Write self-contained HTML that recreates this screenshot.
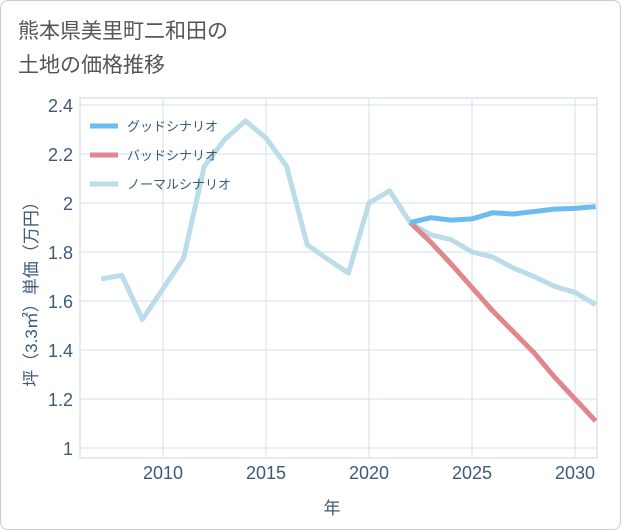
<!DOCTYPE html>
<html><head><meta charset="utf-8"><style>
body{margin:0;background:#fff;font-family:"Liberation Sans","Noto Sans CJK JP",sans-serif;}
#wrap{position:relative;width:619px;height:528px;border:1px solid #ccc;border-radius:8px;overflow:hidden;}
#title{position:absolute;left:17px;top:14px;font-size:21px;line-height:34px;color:#555;}
</style></head><body>
<div id="wrap">
<div id="title">熊本県美里町二和田の<br>土地の価格推移</div>
<svg id="chart" width="621" height="530" style="position:absolute;left:-1px;top:-1px"></svg>
</div>
<script>
const years=[2007,2008,2009,2010,2011,2012,2013,2014,2015,2016,2017,2018,2019,2020,2021,2022,2023,2024,2025,2026,2027,2028,2029,2030,2031];
const normal=[1.69,1.705,1.525,1.65,1.775,2.15,2.26,2.335,2.265,2.15,1.83,1.77,1.714,2.0,2.05,1.92,1.87,1.85,1.80,1.78,1.735,1.70,1.66,1.635,1.585];
const fYears=[2022,2023,2024,2025,2026,2027,2028,2029,2030,2031];
const good=[1.92,1.94,1.93,1.935,1.96,1.955,1.965,1.975,1.978,1.985];
const bad=[1.92,1.84,1.75,1.655,1.56,1.475,1.39,1.29,1.20,1.11];
const yTicks=[1,1.2,1.4,1.6,1.8,2,2.2,2.4];
const yLabels=["1","1.2","1.4","1.6","1.8","2","2.2","2.4"];
const xTicks=[2010,2015,2020,2025,2030];
const legendNames=["グッドシナリオ","バッドシナリオ","ノーマルシナリオ"];
const legendColors=["#6bbcf0","#e0868c","#bcdcea"];
const NS="http://www.w3.org/2000/svg";
const svg=document.getElementById('chart');
const TXT='#3d5a78';
const L=80,R=597,T=98,B=458;
const xs=y=>163+(y-2010)*20.6;
const ys=v=>448-(v-1)*245;
function mk(t,a,p){const e=document.createElementNS(NS,t);for(const k in a)e.setAttribute(k,a[k]);(p||svg).appendChild(e);return e;}
mk('rect',{x:L,y:T,width:R-L,height:B-T,fill:'none',stroke:'#c8d4de'});
yTicks.forEach((v,i)=>{
 const g=mk('line',{x1:L,x2:R,y1:ys(v),y2:ys(v),stroke:'#d2e2ee'});
 
 
 const t=mk('text',{x:73,y:ys(v)+7,'text-anchor':'end','font-size':18,fill:TXT});
 t.textContent=yLabels[i];
 
 
});
xTicks.forEach(v=>{
 const g=mk('line',{x1:xs(v),x2:xs(v),y1:T,y2:B,stroke:'#d2e2ee'});
 
 
 const t=mk('text',{x:xs(v),y:479,'text-anchor':'middle','font-size':18,fill:TXT});
 t.textContent=v;
 
 
});
const xt=mk('text',{x:332,y:514,'text-anchor':'middle','font-size':17,fill:TXT});xt.textContent='年';


const yt=mk('text',{x:0,y:0,'text-anchor':'middle','font-size':17,fill:TXT,transform:'translate(37,290) rotate(-90)'});yt.textContent='坪（3.3㎡）単価（万円）';


const clip=mk('clipPath',{id:'c'});mk('rect',{x:L,y:T,width:R-L,height:B-T},clip);
function line(xa,va,c,n){const p=mk('polyline',{points:xa.map((x,i)=>xs(x)+','+ys(va[i])).join(' '),fill:'none',stroke:c,'stroke-width':5,'stroke-linejoin':'round','clip-path':'url(#c)'});
 
 }
line(years,normal,legendColors[2],'normal-scenario-line');
line(fYears,bad,legendColors[1],'bad-scenario-line');
line(fYears,good,legendColors[0],'good-scenario-line');
legendNames.forEach((n,i)=>{
 const y=126+i*29;
 const l=mk('line',{x1:90,x2:118,y1:y,y2:y,stroke:legendColors[i],'stroke-width':5});
 
 
 const t=mk('text',{x:127,y:y+5,'font-size':13,fill:TXT});t.textContent=n;
 
 
});
</script>
</body></html>
